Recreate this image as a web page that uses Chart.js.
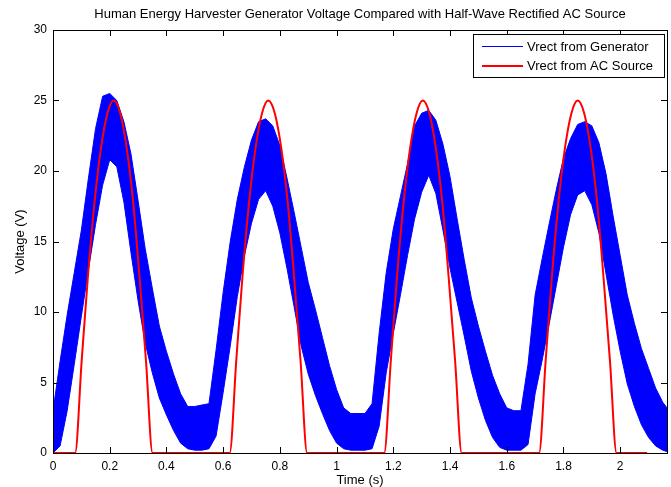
<!DOCTYPE html>
<html>
<head>
<meta charset="utf-8">
<script src="https://cdn.jsdelivr.net/npm/chart.js@4.4.1/dist/chart.umd.min.js"></script>
<style>
  html, body { margin: 0; padding: 0; background: #ffffff; }
  #wrap { width: 671px; height: 487px; }
</style>
</head>
<body>
<div id="wrap"><canvas id="c" width="671" height="487"></canvas></div>
<script>
// ---------- data ----------
const chartTitle = "Human Energy Harvester Generator Voltage Compared with Half-Wave Rectified AC Source";
const xTitle = "Time (s)";
const yTitle = "Voltage (V)";
const seriesNames = ["Vrect from Generator", "Vrect from AC Source"];

const xTicks = [0, 0.2, 0.4, 0.6, 0.8, 1, 1.2, 1.4, 1.6, 1.8, 2];
const yTicks = [0, 5, 10, 15, 20, 25, 30];

// generator voltage: noisy band, upper and lower envelope (V)
const genTime = [0,0.025,0.05,0.075,0.1,0.125,0.15,0.175,0.2,0.225,0.25,0.275,0.3,0.325,0.35,0.375,0.4,0.425,0.45,0.475,
  0.5,0.525,0.55,0.575,0.6,0.625,0.65,0.675,0.7,0.725,0.75,0.775,0.8,0.825,0.85,0.875,0.9,0.925,0.95,0.975,
  1.0,1.025,1.05,1.075,1.1,1.125,1.15,1.175,1.2,1.225,1.25,1.275,1.3,1.325,1.35,1.375,1.4,1.425,1.45,1.475,
  1.5,1.525,1.55,1.575,1.6,1.625,1.65,1.675,1.7,1.725,1.75,1.775,1.8,1.825,1.85,1.875,1.9,1.925,1.95,1.975,
  2.0,2.025,2.05,2.075,2.1,2.125,2.15,2.165];
const genUpper = [3.0,6.5,9.8,12.8,15.8,19.5,23.0,25.3,25.5,25.0,23.5,21.2,17.9,14.5,11.7,9.0,7.2,5.6,4.2,3.3,
  3.3,3.4,3.5,7.3,11.4,15.0,18.0,20.3,22.2,23.5,23.7,23.2,21.8,19.5,17.1,14.6,12.1,10.2,8.2,6.2,
  4.5,3.2,2.8,2.8,2.8,3.5,8.5,12.8,15.9,18.2,20.5,23.2,24.1,24.3,23.6,21.9,19.6,16.6,13.7,11.0,
  9.0,7.2,5.5,4.2,3.2,3.0,3.0,6.3,11.2,13.8,16.3,18.7,20.9,22.3,23.3,23.5,23.2,22.0,19.8,16.8,
  14.0,11.2,9.2,7.4,6.0,4.6,3.6,3.2];
const genLower = [0,0.5,3.0,6.3,9.7,13.0,16.2,19.0,20.8,20.3,17.8,14.2,10.8,7.8,5.7,3.9,2.7,1.6,0.7,0.3,
  0.2,0.2,0.3,1.2,4.3,7.6,11.1,14.0,16.3,18.0,18.6,17.5,15.6,13.1,10.4,7.6,5.6,4.1,2.8,1.6,
  0.7,0.3,0.2,0.2,0.2,0.3,1.9,5.7,8.5,11.2,14.0,16.6,18.5,19.7,18.4,15.8,13.1,10.7,8.3,5.8,
  3.9,2.3,1.1,0.4,0.2,0.2,0.2,0.6,4.2,6.6,9.2,11.9,14.6,16.9,18.3,18.6,17.6,15.6,12.7,9.8,
  7.2,4.9,3.3,2.0,1.1,0.5,0.2,0.1];

// AC source, half-wave rectified (V)
const acTime = [0,
  0.078,0.101,0.123,0.146,0.169,0.192,0.214,0.237,0.260,0.283,0.305,0.328,0.351,
  0.623,0.646,0.668,0.691,0.714,0.737,0.759,0.782,0.805,0.828,0.850,0.873,0.896,
  1.168,1.191,1.213,1.236,1.259,1.282,1.304,1.327,1.350,1.373,1.395,1.418,1.441,
  1.714,1.737,1.759,1.782,1.805,1.828,1.850,1.873,1.896,1.919,1.941,1.964,1.987,
  2.095];
const acVolt = [0,
  0,6.5,12.5,17.7,21.6,24.1,25,24.1,21.6,17.7,12.5,6.5,0,
  0,6.5,12.5,17.7,21.6,24.1,25,24.1,21.6,17.7,12.5,6.5,0,
  0,6.5,12.5,17.7,21.6,24.1,25,24.1,21.6,17.7,12.5,6.5,0,
  0,6.5,12.5,17.7,21.6,24.1,25,24.1,21.6,17.7,12.5,6.5,0,
  0];

const xMin = 0, xMax = 2.165, yMin = 0, yMax = 30;

// ---------- chart ----------
const FONT = "'Liberation Sans', Arial, Helvetica, sans-serif";
const BLUE = "rgb(0,0,255)";
const RED = "rgb(255,0,0)";

const pts = (xs, ys) => xs.map((x, i) => ({ x: x, y: ys[i] }));

const matlabFrame = {
  id: 'matlabFrame',
  afterDraw(chart) {
    const ctx = chart.ctx;
    const a = chart.chartArea;
    const xs = chart.scales.x, ys = chart.scales.y;
    ctx.save();
    // inward ticks
    ctx.strokeStyle = '#000';
    ctx.lineWidth = 1;
    const tl = 6;
    ctx.beginPath();
    xTicks.forEach(v => {
      const px = Math.round(xs.getPixelForValue(v)) + 0.5;
      ctx.moveTo(px, a.bottom); ctx.lineTo(px, a.bottom - tl);
      ctx.moveTo(px, a.top); ctx.lineTo(px, a.top + tl);
    });
    yTicks.forEach(v => {
      const py = Math.round(ys.getPixelForValue(v)) + 0.5;
      ctx.moveTo(a.left, py); ctx.lineTo(a.left + tl, py);
      ctx.moveTo(a.right, py); ctx.lineTo(a.right - tl, py);
    });
    ctx.stroke();
    // box
    ctx.strokeRect(Math.round(a.left) + 0.5, Math.round(a.top) + 0.5,
                   Math.round(a.right - a.left), Math.round(a.bottom - a.top));

    // title
    ctx.fillStyle = '#000';
    ctx.font = "13px " + FONT;
    ctx.textAlign = 'center';
    ctx.textBaseline = 'middle';
    ctx.fillText(chartTitle, (a.left + a.right) / 2, 14);
    // axis titles
    ctx.fillText(xTitle, (a.left + a.right) / 2, 480);
    ctx.save();
    ctx.translate(20, (a.top + a.bottom) / 2);
    ctx.rotate(-Math.PI / 2);
    ctx.fillText(yTitle, 0, 0);
    ctx.restore();

    // legend box
    const lx = 473, ly = 34, lw = 191, lh = 43;
    ctx.fillStyle = '#fff';
    ctx.fillRect(lx, ly, lw, lh);
    ctx.strokeStyle = '#000';
    ctx.strokeRect(lx + 0.5, ly + 0.5, lw, lh);
    const rows = [
      { name: seriesNames[0], color: BLUE, w: 1, y: 46.5 },
      { name: seriesNames[1], color: RED, w: 2, y: 66 }
    ];
    ctx.textAlign = 'left';
    ctx.font = "13px " + FONT;
    rows.forEach(r => {
      ctx.strokeStyle = r.color;
      ctx.lineWidth = r.w;
      ctx.beginPath();
      ctx.moveTo(482, r.y); ctx.lineTo(523, r.y);
      ctx.stroke();
      ctx.fillStyle = '#000';
      ctx.fillText(r.name, 527, r.y + 0.5);
    });
    ctx.restore();
  }
};

new Chart(document.getElementById('c'), {
  type: 'line',
  data: {
    datasets: [
      {
        label: seriesNames[1],
        data: pts(acTime, acVolt),
        borderColor: RED,
        borderWidth: 2,
        pointRadius: 0,
        fill: false,
        cubicInterpolationMode: 'monotone',
        order: 0
      },
      {
        label: seriesNames[0],
        data: pts(genTime, genUpper),
        borderColor: BLUE,
        backgroundColor: BLUE,
        borderWidth: 1,
        pointRadius: 0,
        fill: '+1',
        order: 1
      },
      {
        label: seriesNames[0] + ' (lower)',
        data: pts(genTime, genLower),
        borderColor: BLUE,
        borderWidth: 1,
        pointRadius: 0,
        fill: false,
        order: 1
      }
    ]
  },
  options: {
    responsive: false,
    devicePixelRatio: 1,
    animation: false,
    layout: { padding: { top: 30, right: 4, left: 0, bottom: 0 } },
    plugins: {
      legend: { display: false },
      title: { display: false },
      tooltip: { enabled: false }
    },
    scales: {
      x: {
        type: 'linear',
        min: xMin, max: xMax,
        afterBuildTicks: s => { s.ticks = xTicks.map(v => ({ value: v })); },
        afterFit: s => { s.height = 34; },
        grid: { display: false, drawTicks: false },
        border: { display: false },
        ticks: {
          color: '#000',
          font: { family: FONT, size: 12 },
          padding: 6,
          maxRotation: 0,
          autoSkip: false,
          callback: v => String(v)
        }
      },
      y: {
        type: 'linear',
        min: yMin, max: yMax,
        afterBuildTicks: s => { s.ticks = yTicks.map(v => ({ value: v })); },
        afterFit: s => { s.width = 53; },
        grid: { display: false, drawTicks: false },
        border: { display: false },
        ticks: {
          color: '#000',
          font: { family: FONT, size: 12 },
          padding: 6,
          autoSkip: false,
          callback: v => String(v)
        }
      }
    }
  },
  plugins: [matlabFrame]
});
</script>
</body>
</html>
